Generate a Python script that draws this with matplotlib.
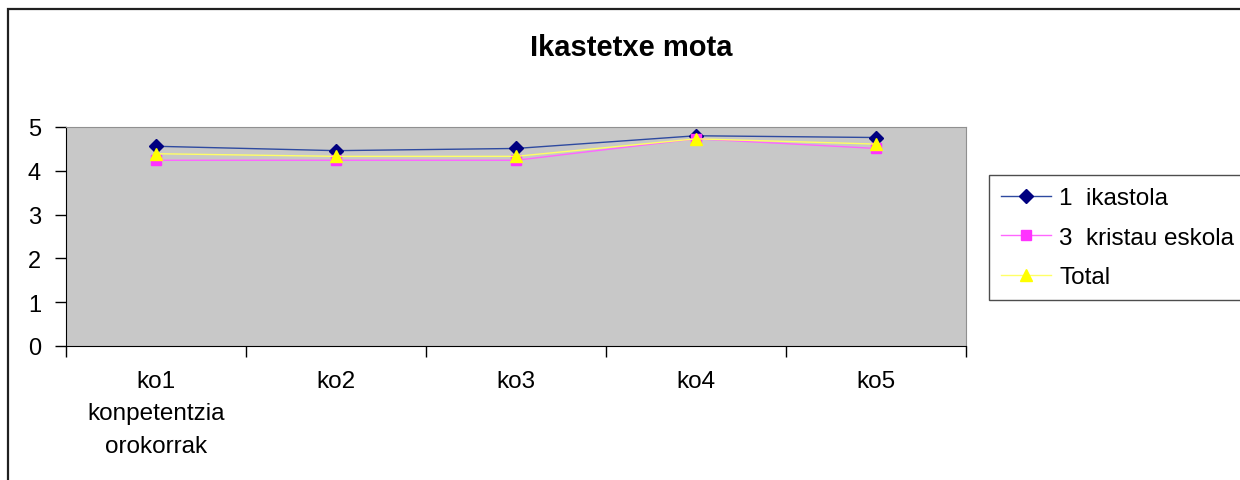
import matplotlib.pyplot as plt
from matplotlib.patches import Rectangle

plt.rcParams['font.family'] = ['Liberation Sans', 'DejaVu Sans']

categories = ['ko1\nkonpetentzia\norokorrak', 'ko2', 'ko3', 'ko4', 'ko5']
ikastola = [4.56, 4.46, 4.51, 4.80, 4.76]
kristau = [4.24, 4.24, 4.24, 4.73, 4.51]
total = [4.39, 4.33, 4.33, 4.73, 4.61]
series_names = ['1  ikastola', '3  kristau eskola', 'Total']

W, H = 1240, 481
fig = plt.figure(figsize=(W / 100, H / 100), dpi=100)

# outer chart frame
fig.patches.append(Rectangle((8 / W, -0.1), 1.2, 1 - 10 / H + 0.1, transform=fig.transFigure,
                             fill=False, edgecolor='#202020', linewidth=1.6))

ax = fig.add_axes([66 / W, 1 - 347 / H, 900 / W, 219 / H])
ax.set_facecolor('#C8C8C8')

x = list(range(len(categories)))
ax.plot(x, ikastola, color='#2E4AA0', lw=1, marker='D', ms=7, mfc='#000080', mec='#000080',
        label=series_names[0], zorder=3)
ax.plot(x, kristau, color='#FF66FF', lw=1, marker='s', ms=7, mfc='#FF33FF', mec='#FF33FF',
        label=series_names[1], zorder=3)
ax.plot(x, total, color='#FFFF66', lw=1, marker='^', ms=9, mfc='#FFFF00', mec='#FFFF00',
        label=series_names[2], zorder=4)

ax.set_xlim(-0.5, len(categories) - 0.5)
ax.set_ylim(0, 5)
ax.set_yticks(range(6))
ax.set_xticks([i - 0.5 for i in range(len(categories) + 1)])
ax.set_xticklabels([])
ax.set_xticks(x, minor=True)
ax.set_xticklabels(categories, minor=True, fontsize=17.5, linespacing=1.62)
ax.tick_params(axis='x', which='major', direction='out', length=8, width=1, color='black')
ax.tick_params(axis='x', which='minor', length=0, pad=17)
ax.tick_params(axis='y', direction='out', length=8, width=1, labelsize=17, pad=10)

for s in ['top', 'right']:
    ax.spines[s].set_color('#909090')
for s in ['left', 'bottom']:
    ax.spines[s].set_color('black')

fig.text(631 / W, 1 - 48 / H, 'Ikastetxe mota', ha='center', va='center',
         fontsize=21, fontweight='bold')

leg = fig.legend(loc='upper left', bbox_to_anchor=(989 / W, 1 - 176 / H), fontsize=17.5,
                 frameon=True, fancybox=False, edgecolor='#202020', handlelength=2.05,
                 handletextpad=0.35, labelspacing=0.72, borderpad=0.5, borderaxespad=0)
leg.get_frame().set_linewidth(1)

fig.savefig('out.png', dpi=100)
